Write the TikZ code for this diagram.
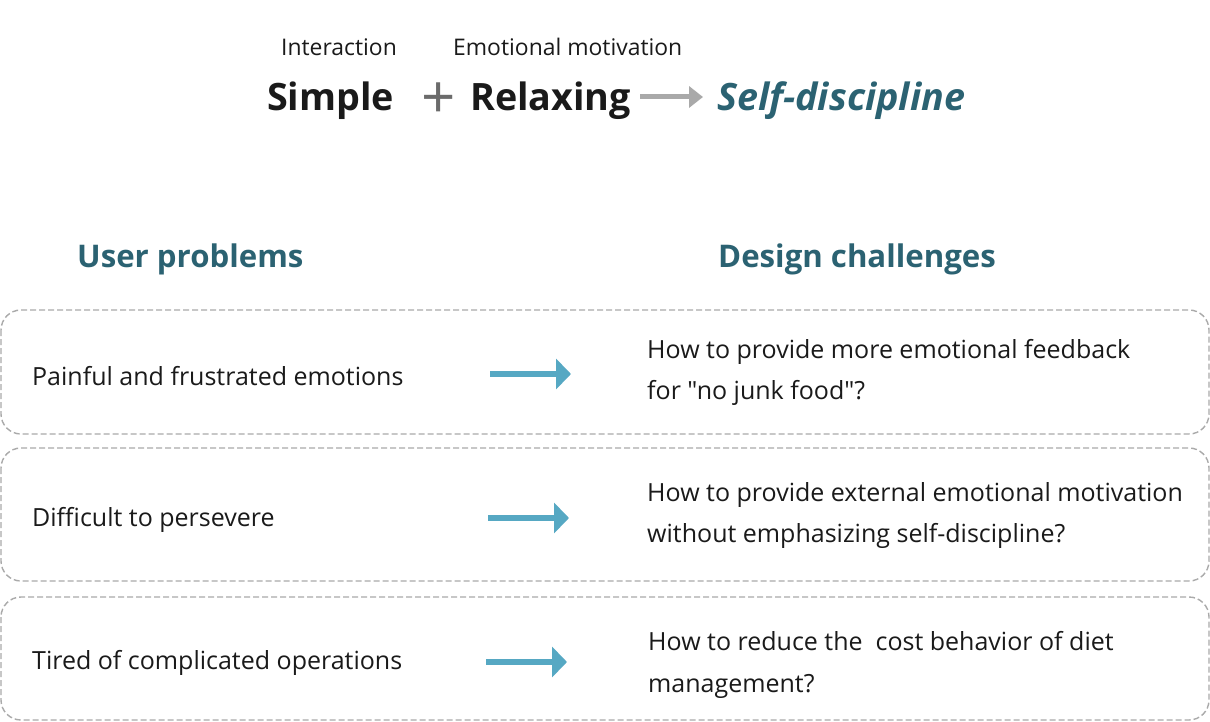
\documentclass[tikz,border=0pt]{standalone}
\usepackage{fontspec}
\setmainfont{Open Sans}[Ligatures=TeXOff]
\usetikzlibrary{arrows.meta}
\definecolor{teal}{HTML}{2B6272}
\definecolor{ink}{HTML}{1A1A1A}
\definecolor{dashgray}{HTML}{AAAAAA}
\definecolor{arrblue}{HTML}{56A8C3}
\definecolor{arrgray}{HTML}{A9A9A9}
\definecolor{plusgray}{HTML}{6B6B6B}
\tikzset{
  txt/.style={inner sep=0pt, anchor=base west, text=ink, font=\fontsize{25bp}{30bp}\selectfont},
  small/.style={inner sep=0pt, anchor=base west, text=ink, font=\fontsize{22.9bp}{27bp}\selectfont},
  big/.style={inner sep=0pt, anchor=base west, text=ink, font=\fontsize{37.7bp}{45bp}\selectfont\bfseries},
  heading/.style={inner sep=0pt, anchor=base west, text=teal, font=\fontsize{31.2bp}{37bp}\selectfont\bfseries},
  rowbox/.style={draw=dashgray, line width=1.4bp, dash pattern=on 6bp off 3bp, rounded corners=20bp},
  bluearrow/.style={draw=arrblue, line width=6bp, -{Triangle[length=15bp,width=30bp]}},
  grayarrow/.style={draw=arrgray, line width=5bp, -{Triangle[length=14bp,width=21bp]}},
}
\begin{document}
\begin{tikzpicture}[x=1bp,y=-1bp]
\useasboundingbox (0,0) rectangle (1210,722);
\fill[white] (0,0) rectangle (1210,722);

% top formula
\node[small] (inter) at (281,56) {Interaction};
\node[small] (emot) at (453,56) {Emotional motivation};
\node[big] (simple) at (267,111) {Simple};
\node[inner sep=0pt, text=plusgray, font=\fontsize{60bp}{60bp}\selectfont] (plus) at (438.5,101) {+};
\node[big] (relax) at (470,111) {Relaxing};
\node[big, text=teal, font=\fontsize{37.7bp}{45bp}\selectfont\bfseries\itshape] (selfd) at (717,111) {Self-discipline};
\coordinate (ga1) at (640,97);
\coordinate (ga2) at (703,97);
\draw[grayarrow] (ga1) -- (ga2);

% headings
\node[heading] (hup) at (77,267) {User problems};
\node[heading] (hdc) at (718,267) {Design challenges};

% row boxes
\draw[rowbox] (1,310) rectangle (1209,434);
\draw[rowbox] (1,448) rectangle (1209,581);
\draw[rowbox] (1,597) rectangle (1209,720);

% row 1
\node[txt] (p1) at (32,385) {Painful and frustrated emotions};
\coordinate (a1s) at (490,374);
\coordinate (a1e) at (571,374);
\draw[bluearrow] (a1s) -- (a1e);
\node[txt] (c1a) at (647,358) {How to provide more emotional feedback};
\node[txt] (c1b) at (647,399) {for "no junk food"?};

% row 2
\node[txt] (p2) at (32,526) {Difficult to persevere};
\coordinate (a2s) at (488,518);
\coordinate (a2e) at (569,518);
\draw[bluearrow] (a2s) -- (a2e);
\node[txt] (c2a) at (647,501) {How to provide external emotional motivation};
\node[txt] (c2b) at (647,542) {without emphasizing self-discipline?};

% row 3
\node[txt] (p3) at (32,669) {Tired of complicated operations};
\coordinate (a3s) at (486,662);
\coordinate (a3e) at (567,662);
\draw[bluearrow] (a3s) -- (a3e);
\node[txt] (c3a) at (648,650) {How to reduce the\ \ cost behavior of diet};
\node[txt] (c3b) at (648,692) {management?};
\end{tikzpicture}
\end{document}
